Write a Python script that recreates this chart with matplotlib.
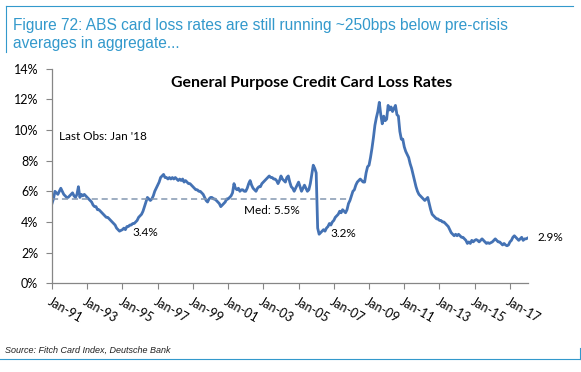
import matplotlib
matplotlib.use("Agg")
import matplotlib.pyplot as plt
from matplotlib.lines import Line2D

# monthly loss rates (%), Jan-91 .. Jan-18
loss_91 = [5.2, 5.5, 6.0, 5.9, 5.8, 6.0, 6.2, 6.0, 5.8, 5.7, 5.6, 5.6]
loss_92 = [5.7, 5.8, 5.9, 5.7, 5.6, 5.8, 6.3, 5.6, 5.8, 5.7, 5.8, 5.7]
loss_93 = [5.6, 5.5, 5.4, 5.3, 5.1, 5.0, 5.0, 4.8, 4.8, 4.7, 4.6, 4.5]
loss_94 = [4.4, 4.3, 4.3, 4.2, 4.1, 4.0, 3.9, 3.8, 3.6, 3.5, 3.4, 3.45]
loss_95 = [3.5, 3.6, 3.5, 3.7, 3.7, 3.8, 3.8, 3.9, 3.9, 4.0, 4.1, 4.3]
loss_96 = [4.4, 4.5, 4.7, 5.0, 5.3, 5.6, 5.5, 5.4, 5.5, 5.7, 6.0, 6.2]
loss_97 = [6.4, 6.6, 6.9, 7.0, 7.1, 6.9, 6.9, 6.8, 6.9, 6.8, 6.9, 6.8]
loss_98 = [6.9, 6.8, 6.7, 6.8, 6.7, 6.8, 6.6, 6.7, 6.6, 6.5, 6.5, 6.4]
loss_99 = [6.3, 6.2, 6.1, 6.1, 6.0, 6.0, 5.9, 5.8, 5.6, 5.4, 5.3, 5.5]
loss_00 = [5.6, 5.6, 5.5, 5.5, 5.4, 5.3, 5.2, 5.0, 5.1, 5.2, 5.3, 5.5]
loss_01 = [5.5, 5.6, 5.7, 5.9, 6.5, 6.2, 6.1, 6.2, 6.0, 6.1, 6.1, 6.0]
loss_02 = [6.0, 6.2, 6.5, 6.7, 6.4, 6.2, 6.1, 6.0, 6.2, 6.3, 6.3, 6.5]
loss_03 = [6.6, 6.7, 6.8, 6.9, 7.0, 6.9, 6.9, 6.8, 6.8, 6.7, 6.5, 6.7]
loss_04 = [7.0, 6.8, 6.7, 6.6, 6.9, 7.0, 6.6, 6.3, 6.2, 6.0, 6.2, 6.4]
loss_05 = [6.6, 6.3, 6.0, 6.2, 6.4, 6.2, 6.0, 6.1, 6.5, 7.1, 7.7, 7.5]
loss_06 = [7.2, 3.6, 3.2, 3.3, 3.4, 3.5, 3.4, 3.6, 3.7, 3.9, 3.8, 4.0]
loss_07 = [4.1, 4.3, 4.4, 4.5, 4.7, 4.6, 4.8, 4.7, 4.6, 4.8, 5.2, 5.4]
loss_08 = [5.7, 6.0, 6.1, 6.4, 6.6, 6.7, 6.8, 6.7, 6.6, 6.6, 7.2, 7.6]
loss_09 = [7.7, 8.2, 8.8, 9.5, 10.3, 10.8, 11.2, 11.8, 11.0, 10.4, 10.9, 10.6]
loss_10 = [10.7, 11.6, 11.3, 11.5, 11.2, 11.4, 11.6, 11.0, 10.9, 9.9, 9.4, 9.4]
loss_11 = [8.9, 8.6, 8.4, 8.2, 7.8, 7.5, 7.1, 6.7, 6.3, 6.0, 5.8, 5.7]
loss_12 = [5.6, 5.5, 5.4, 5.5, 5.6, 5.2, 4.8, 4.5, 4.4, 4.3, 4.2, 4.2]
loss_13 = [4.1, 4.1, 4.0, 4.0, 3.9, 3.8, 3.7, 3.5, 3.3, 3.2, 3.1, 3.2]
loss_14 = [3.1, 3.2, 3.1, 3.0, 3.0, 2.9, 2.8, 2.6, 2.7, 2.6, 2.8, 2.7]
loss_15 = [2.8, 2.85, 2.8, 2.7, 2.8, 2.9, 2.8, 2.7, 2.6, 2.65, 2.6, 2.65]
loss_16 = [2.7, 2.8, 2.9, 2.8, 2.7, 2.7, 2.6, 2.5, 2.6, 2.5, 2.45, 2.5]
loss_17 = [2.7, 2.8, 3.0, 3.1, 3.0, 2.9, 2.8, 2.9, 3.0, 2.8, 2.9, 2.9]
loss_18 = [2.95]

median_val = 5.5
median_end = 203          # median line runs to ~Dec-07
xtick_labels = ['Jan-91', 'Jan-93', 'Jan-95', 'Jan-97', 'Jan-99', 'Jan-01', 'Jan-03',
                'Jan-05', 'Jan-07', 'Jan-09', 'Jan-11', 'Jan-13', 'Jan-15', 'Jan-17']

loss = (loss_91 + loss_92 + loss_93 + loss_94 + loss_95 + loss_96 + loss_97 + loss_98
        + loss_99 + loss_00 + loss_01 + loss_02 + loss_03 + loss_04 + loss_05 + loss_06
        + loss_07 + loss_08 + loss_09 + loss_10 + loss_11 + loss_12 + loss_13 + loss_14
        + loss_15 + loss_16 + loss_17 + loss_18)
months = list(range(len(loss)))

blue = '#4472B4'
grey = '#868686'
cap_blue = '#3399CC'
chart_font = ['Lato', 'DejaVu Sans']

fig = plt.figure(figsize=(5.81, 3.72), dpi=100)
ax = fig.add_axes([0.0895, 0.2384, 0.8185, 0.5772])

ax.plot(months, loss, color=blue, lw=2.0, solid_joinstyle='round')
ax.plot([0, median_end], [median_val, median_val], color='#8497B0', lw=1.1,
        dashes=(4, 2.5))

ax.set_xlim(0, 324)
ax.set_ylim(0, 14)
ax.set_yticks(range(0, 15, 2))
ax.set_yticklabels(['%d%%' % v for v in range(0, 15, 2)], fontsize=9, family=chart_font)
ax.set_xticks(range(0, 24 * len(xtick_labels), 24))
ax.set_xticklabels(xtick_labels, rotation=-30, ha='left', va='top',
                   rotation_mode='anchor', fontsize=9, family=chart_font)
ax.tick_params(axis='y', length=4, color=grey, pad=6)
ax.tick_params(axis='x', length=4, color=grey, pad=5)
for s in ['top', 'right']:
    ax.spines[s].set_visible(False)
for s in ['left', 'bottom']:
    ax.spines[s].set_color(grey)
    ax.spines[s].set_linewidth(0.9)

ax.text(0.545, 0.935, 'General Purpose Credit Card Loss Rates', transform=ax.transAxes,
        fontsize=11.4, fontweight='bold', family=chart_font, ha='center', va='center')

ax.text(5, 9.6, "Last Obs: Jan '18", fontsize=8.5, family=chart_font, va='center')
ax.text(55, 3.3, '3.4%', fontsize=8.5, family=chart_font, va='center')
ax.text(131, 4.75, 'Med: 5.5%', fontsize=8.5, family=chart_font, va='center')
ax.text(190, 3.22, '3.2%', fontsize=8.5, family=chart_font, va='center')
ax.text(331, 2.97, '2.9%', fontsize=8.5, family=chart_font, va='center', clip_on=False)

# report frame + caption
fig.text(0.022, 0.907, 'Figure 72: ABS card loss rates are still running ~250bps below pre-crisis\naverages in aggregate...',
         color=cap_blue, fontsize=11.2, family='Liberation Sans', va='center', linespacing=1.2)
fig.add_artist(Line2D([0.0095, 0.986], [0.985, 0.985], color=cap_blue, lw=0.8))
fig.add_artist(Line2D([0.0095, 0.0095], [0.985, 0.86], color=cap_blue, lw=0.8))
fig.text(0.009, 0.059, 'Source: Fitch Card Index, Deutsche Bank', fontsize=6.5,
         style='italic', family='Liberation Sans', va='center', color='#222222')
fig.add_artist(Line2D([0.0, 0.998], [0.035, 0.035], color=cap_blue, lw=0.8))
fig.add_artist(Line2D([0.998, 0.998], [0.035, 0.065], color=cap_blue, lw=0.8))

fig.savefig('out.png', dpi=100)
